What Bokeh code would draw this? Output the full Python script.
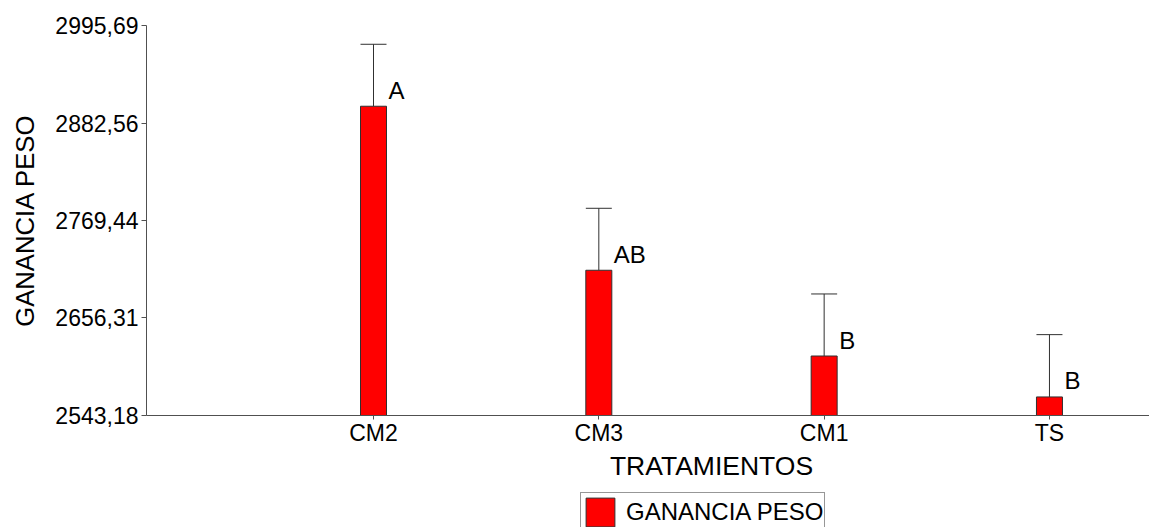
from bokeh.plotting import figure
from bokeh.models import (Range1d, FixedTicker, Label, Legend, LegendItem, ColumnDataSource)
from bokeh.layouts import column
from bokeh.core.properties import value
from bokeh.embed import file_html
from bokeh.resources import INLINE

categories = ["CM2", "CM3", "CM1", "TS"]
means = [2902.0, 2711.7, 2612.2, 2564.7]
errors = [71.9, 71.9, 72.0, 72.3]
letters = ["A", "AB", "B", "B"]
y_ticks = [2543.18, 2656.31, 2769.44, 2882.56, 2995.69]
y_tick_labels = ["2543,18", "2656,31", "2769,44", "2882,56", "2995,69"]
x_title = "TRATAMIENTOS"
y_title = "GANANCIA PESO"
series_name = "GANANCIA PESO"

xpos = [i + 1 for i in range(len(categories))]
bar_w = 0.1154
upper = [m + e for m, e in zip(means, errors)]

src = ColumnDataSource(dict(
    x=xpos, top=means, upper=upper, lab=letters,
    left=[x - bar_w / 2 for x in xpos], right=[x + bar_w / 2 for x in xpos],
))

FONT = "Liberation Sans"
AX = "#505050"
EDGE = "#303030"
RED = "#FF0000"

xr = Range1d(-0.0075, 4.444)
p = figure(width=1149, height=449, output_backend="svg", toolbar_location=None,
           x_range=xr, y_range=Range1d(y_ticks[0], y_ticks[-1]),
           min_border_left=146, min_border_right=0, min_border_top=25, min_border_bottom=34)
p.outline_line_color = None
p.grid.visible = False

bars = p.vbar(x="x", top="top", bottom=y_ticks[0], width=bar_w, source=src,
              fill_color=RED, line_color=EDGE, line_width=1)
p.segment(x0="x", y0="top", x1="x", y1="upper", source=src, line_color=EDGE, line_width=1)
p.segment(x0="left", y0="upper", x1="right", y1="upper", source=src, line_color=EDGE, line_width=1)

p.text(x="x", y="top", text="lab", source=src, x_offset=15, y_offset=-16,
       text_font=value(FONT), text_font_size="24px", text_color="black",
       text_baseline="alphabetic", text_align="left")

ya = p.yaxis[0]
ya.ticker = FixedTicker(ticks=y_ticks)
ya.major_label_overrides = {t: l for t, l in zip(y_ticks, y_tick_labels)}
ya.minor_tick_line_color = None
ya.major_tick_in = 0
ya.major_tick_out = 5
ya.axis_line_color = AX
ya.major_tick_line_color = AX
ya.major_label_text_font = FONT
ya.major_label_text_font_size = "23px"
ya.major_label_text_color = "black"
ya.major_label_standoff = 3
ya.axis_label = y_title
ya.axis_label_text_font = FONT
ya.axis_label_text_font_size = "25.7px"
ya.axis_label_text_font_style = "normal"
ya.axis_label_text_color = "black"
ya.axis_label_standoff = 13

xa = p.xaxis[0]
xa.ticker = FixedTicker(ticks=xpos)
xa.major_label_overrides = {x: c for x, c in zip(xpos, categories)}
xa.minor_tick_line_color = None
xa.major_tick_in = 0
xa.major_tick_out = 4
xa.axis_line_color = AX
xa.major_tick_line_color = AX
xa.major_label_text_font = FONT
xa.major_label_text_font_size = "23px"
xa.major_label_text_color = "black"
xa.major_label_standoff = 0

# lower strip: axis title and legend
p2 = figure(width=1149, height=78, output_backend="svg", toolbar_location=None,
            x_range=xr, y_range=Range1d(0, 78), x_axis_location=None, y_axis_location=None,
            min_border_left=146, min_border_right=0, min_border_top=0, min_border_bottom=0)
p2.outline_line_color = None
p2.grid.visible = False

# hidden copy of the bar style, only used for the legend swatch
leg_r = p2.vbar(x="x", top="top", bottom=y_ticks[0], width=bar_w, source=src,
                fill_color=RED, line_color=EDGE, line_width=1, visible=False)

p2.add_layout(Label(x=sum(xpos) / len(xpos), y=62, text=x_title,
                    text_font=FONT, text_font_size="26.5px", text_color="black",
                    text_align="center", text_baseline="middle"))

legend = Legend(items=[LegendItem(label=series_name, renderers=[leg_r], index=0)],
                location=(434, -5), orientation="horizontal",
                label_text_font=FONT, label_text_font_size="24px", label_text_color="black",
                glyph_width=36, glyph_height=36, label_standoff=8,
                padding=1, margin=0, spacing=0,
                inactive_fill_alpha=0,
                border_line_color=EDGE, border_line_width=1,
                background_fill_color="white", background_fill_alpha=1)
p2.add_layout(legend, "center")

layout = column(p, p2, spacing=0)
open("out.html", "w").write(file_html(layout, INLINE))
